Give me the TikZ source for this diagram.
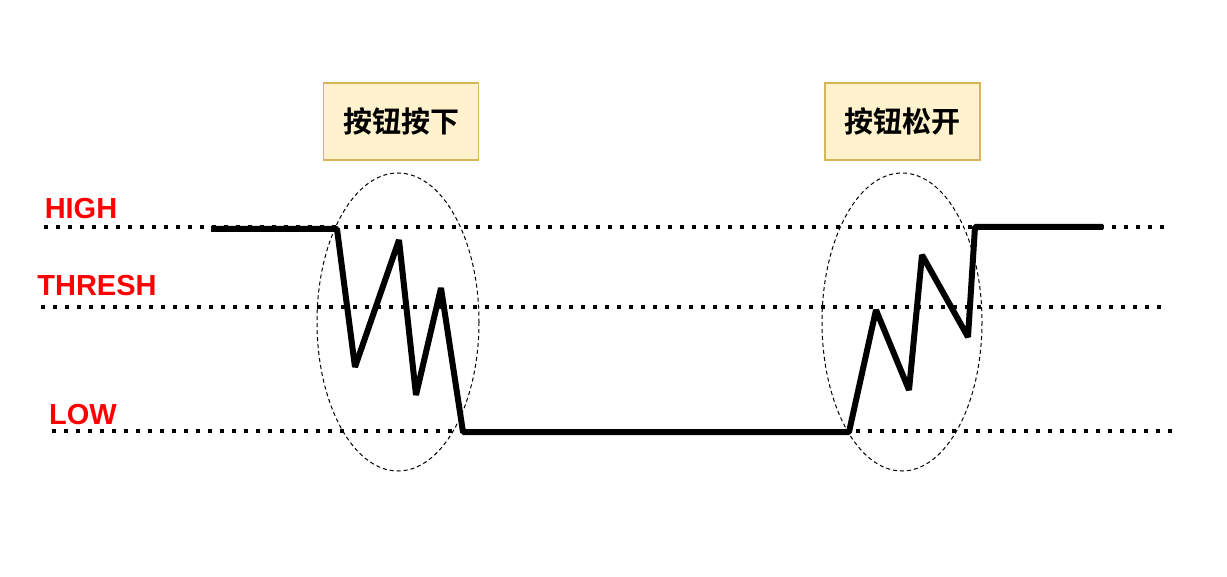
\documentclass[tikz,border=0pt]{standalone}
\usepackage{fontspec}
\setmainfont{Liberation Sans}
\newfontfamily\cjk{Noto Sans CJK SC}[BoldFont={Noto Sans CJK SC Bold}]
\begin{document}
\begin{tikzpicture}[x=1pt,y=-1pt,
  level/.style={line width=3.5pt,dash pattern=on 3.5pt off 8.5pt},
  wave/.style={line width=6pt,line join=bevel},
  region/.style={draw,line width=1pt,dash pattern=on 4pt off 3pt},
  lbl/.style={text=red,font=\bfseries\fontsize{29}{29}\selectfont,inner sep=0pt},
  event/.style={draw={rgb,255:red,214;green,182;blue,86},line width=1.5pt,fill={rgb,255:red,255;green,242;blue,204},minimum width=155pt,minimum height=77pt,inner sep=0pt,font=\cjk\bfseries\fontsize{29}{29}\selectfont}]
\useasboundingbox (0,0) rectangle (1227,577);
% levels
\coordinate (h1) at (44,227); \coordinate (h2) at (1165,227);
\coordinate (t1) at (41,307); \coordinate (t2) at (1162,307);
\coordinate (l1) at (52,431); \coordinate (l2) at (1172,431);
\draw[level] (h1) -- (h2);
\draw[level] (t1) -- (t2);
\draw[level] (l1) -- (l2);
% labels
\node[lbl] (high) at (81,209) {HIGH};
\node[lbl] (thresh) at (97,286) {THRESH};
\node[lbl] (low) at (83,415) {LOW};
% ellipses
\draw[region] (398,322) ellipse [x radius=81, y radius=149];
\draw[region] (902,322) ellipse [x radius=80, y radius=149];
% boxes
\node[event] (press) at (401,121.5) {按钮按下};
\node[event] (release) at (902.5,121.5) {按钮松开};
% waveform
\draw[wave] (211,229) -- (337,229) -- (355,367) -- (399,240) -- (416,395) -- (441,288) -- (463,432)
  -- (849,432) -- (876,310) -- (909,390) -- (922,255) -- (968,337) -- (975,227) -- (1103,227);
\end{tikzpicture}
\end{document}
